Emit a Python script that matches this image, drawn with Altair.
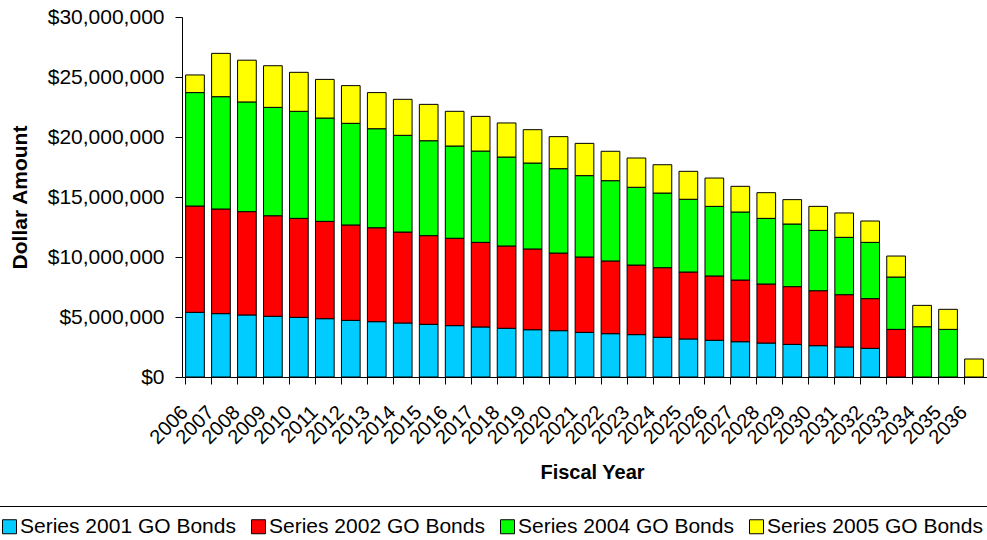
import altair as alt
import pandas as pd

# Fiscal years shown on the x axis
years = [str(y) for y in range(2006, 2037)]

# Annual debt service by bond series (dollars)
series_2001 = [5390000, 5280000, 5170000, 5060000, 4970000, 4860000, 4720000, 4610000,
               4500000, 4390000, 4280000, 4170000, 4060000, 3940000, 3860000, 3720000,
               3610000, 3530000, 3310000, 3170000, 3060000, 2940000, 2830000, 2720000,
               2610000, 2500000, 2390000, 0, 0, 0, 0]
series_2002 = [8860000, 8720000, 8610000, 8380000, 8250000, 8110000, 7950000, 7830000,
               7580000, 7390000, 7280000, 7050000, 6860000, 6730000, 6470000, 6280000,
               6060000, 5800000, 5800000, 5580000, 5360000, 5140000, 4920000, 4810000,
               4580000, 4360000, 4140000, 3970000, 0, 0, 0]
series_2004 = [9450000, 9360000, 9140000, 9030000, 8920000, 8610000, 8470000, 8250000,
               8060000, 7910000, 7690000, 7610000, 7410000, 7160000, 7030000, 6780000,
               6690000, 6480000, 6220000, 6060000, 5800000, 5670000, 5470000, 5220000,
               5030000, 4780000, 4690000, 4360000, 4190000, 3970000, 0]
series_2005 = [1470000, 3610000, 3480000, 3470000, 3250000, 3220000, 3140000, 3010000,
               3000000, 3030000, 2890000, 2890000, 2840000, 2780000, 2670000, 2690000,
               2450000, 2440000, 2360000, 2330000, 2360000, 2140000, 2140000, 2030000,
               2000000, 2030000, 1780000, 1750000, 1780000, 1670000, 1500000]

series_names = ["Series 2001 GO Bonds", "Series 2002 GO Bonds",
                "Series 2004 GO Bonds", "Series 2005 GO Bonds"]
series_colors = ["#00CCFF", "#FF0000", "#00FF00", "#FFFF00"]
y_ticks = [0, 5000000, 10000000, 15000000, 20000000, 25000000, 30000000]

rows = []
for idx, (name, values) in enumerate(zip(series_names,
                                         [series_2001, series_2002, series_2004, series_2005])):
    for year, amount in zip(years, values):
        if amount > 0:
            rows.append({"year": year, "series": name, "amount": amount, "order": idx})
df = pd.DataFrame(rows)

FONT = "Liberation Sans"

chart = alt.Chart(df).mark_bar(stroke="black", strokeWidth=1).encode(
    x=alt.X(
        "year:O",
        sort=years,
        scale=alt.Scale(domain=years, paddingInner=0.28, paddingOuter=0.14),
        axis=alt.Axis(
            title="Fiscal Year",
            titleFontSize=20,
            titleFontWeight="bold",
            titleX=410,
            titleY=95,
            titleAlign="center",
            titleBaseline="middle",
            bandPosition=0,
            labelAngle=-45,
            labelAlign="right",
            labelBaseline="middle",
            labelFontSize=20,
            labelPadding=25,
            labelOffset=-10,
            labelOverlap=False,
            tickSize=7,
        ),
    ),
    y=alt.Y(
        "amount:Q",
        stack="zero",
        scale=alt.Scale(domain=[0, 30000000], nice=False),
        axis=alt.Axis(
            title="Dollar Amount",
            titleFontSize=21,
            titleFontWeight="bold",
            titleX=-162,
            titleY=180,
            titleAngle=270,
            titleAlign="center",
            titleBaseline="middle",
            values=y_ticks,
            format="$,.0f",
            labelFontSize=21,
            labelPadding=11,
            tickSize=7,
            grid=False,
        ),
    ),
    color=alt.Color(
        "series:N",
        scale=alt.Scale(domain=series_names, range=series_colors),
        legend=alt.Legend(
            title=None,
            orient="none",
            direction="horizontal",
            columns=4,
            legendX=-193,
            legendY=489,
            padding=10,
            strokeColor="black",
            symbolType="square",
            symbolSize=196,
            symbolStrokeColor="black",
            symbolStrokeWidth=1,
            labelFontSize=21,
            labelOffset=0,
            labelLimit=400,
            columnPadding=12,
        ),
    ),
    order=alt.Order("order:Q", sort="ascending"),
).properties(
    width=805,
    height=360,
    autosize=alt.AutoSizeParams(type="none"),
    padding={"left": 182, "top": 17, "right": 0, "bottom": 163},
).configure(
    font=FONT,
    background="white",
).configure_axis(
    domainColor="black",
    tickColor="black",
    labelColor="black",
    titleColor="black",
    labelFont=FONT,
    titleFont=FONT,
).configure_legend(
    labelFont=FONT,
    labelColor="black",
).configure_view(
    strokeWidth=0,
)

chart.save("out.html", embed_options={"renderer": "svg", "actions": False})
